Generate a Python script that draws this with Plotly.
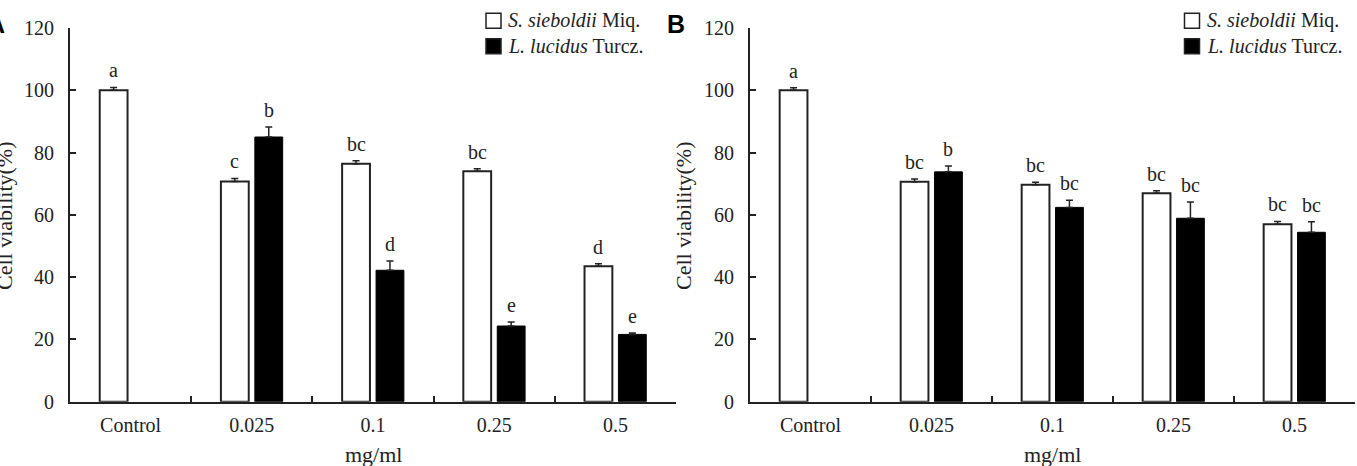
import plotly.graph_objects as go

# ---------------- data ----------------
categories = ["Control", "0.025", "0.1", "0.25", "0.5"]
series_names = ["S. sieboldii Miq.", "L. lucidus Turcz."]

# Panel A
a_sieboldii = [100.0, 70.7, 76.4, 74.0, 43.5]
a_sieboldii_err = [0.9, 1.0, 1.0, 0.8, 0.8]
a_lucidus = [None, 85.0, 42.2, 24.3, 21.6]
a_lucidus_err = [None, 3.2, 3.0, 1.3, 0.5]
a_sieboldii_letters = ["a", "c", "bc", "bc", "d"]
a_lucidus_letters = ["", "b", "d", "e", "e"]

# Panel B
b_sieboldii = [100.0, 70.6, 69.7, 66.9, 57.0]
b_sieboldii_err = [0.8, 0.9, 0.8, 0.8, 0.9]
b_lucidus = [None, 73.8, 62.4, 58.9, 54.4]
b_lucidus_err = [None, 1.9, 2.3, 5.2, 3.4]
b_sieboldii_letters = ["a", "bc", "bc", "bc", "bc"]
b_lucidus_letters = ["", "b", "bc", "bc", "bc"]

y_ticks = [0, 20, 40, 60, 80, 100, 120]
y_title = "Cell viability(%)"
x_title = "mg/ml"
panel_labels = ["A", "B"]

# ---------------- layout constants ----------------
W, H = 1357, 466
FONT = "Liberation Serif"
TXT = "#222222"
BARGAP = 0.44
BARGROUPGAP = 0.18
PLOT_TOP, PLOT_BOTTOM = 28, 401.7
XA = (70, 676)
XB = (750, 1355)


def fx(x):
    return x / W


def fy(y):
    return (H - y) / H


fig = go.Figure()

panels = [
    ("x", "y", XA, a_sieboldii, a_sieboldii_err, a_lucidus, a_lucidus_err,
     a_sieboldii_letters, a_lucidus_letters),
    ("x2", "y2", XB, b_sieboldii, b_sieboldii_err, b_lucidus, b_lucidus_err,
     b_sieboldii_letters, b_lucidus_letters),
]

annotations = []
shapes = []

for (xr, yr, dom, sv, se, lv, le, sl, ll) in panels:
    fig.add_trace(go.Bar(
        x=categories, y=sv, name=series_names[0], xaxis=xr, yaxis=yr,
        marker=dict(color="white", line=dict(color=TXT, width=2)),
        error_y=dict(type="data", symmetric=False, array=se,
                     arrayminus=[0] * len(se), color=TXT, thickness=1.5, width=3.5),
        showlegend=False,
    ))
    fig.add_trace(go.Bar(
        x=categories, y=lv, name=series_names[1], xaxis=xr, yaxis=yr,
        marker=dict(color="black", line=dict(color="black", width=1)),
        error_y=dict(type="data", symmetric=False, array=[e if e is not None else 0 for e in le],
                     arrayminus=[0] * len(le), color=TXT, thickness=1.5, width=3.5),
        showlegend=False,
    ))
    catpx = (dom[1] - dom[0]) / len(categories)
    slot = (1 - BARGAP) / 2 * catpx
    for vals, errs, letters, sign in ((sv, se, sl, -1), (lv, le, ll, 1)):
        for i, (v, e, t) in enumerate(zip(vals, errs, letters)):
            if v is None or not t:
                continue
            annotations.append(dict(
                x=i, y=v + (e or 0), xref=xr, yref=yr, text=t, showarrow=False,
                xanchor="center", yanchor="bottom", xshift=sign * slot / 2, yshift=4,
                font=dict(family=FONT, size=20, color=TXT),
            ))

axis_common = dict(showline=True, linecolor=TXT, linewidth=2, ticks="inside",
                   ticklen=6, tickwidth=1.5, tickcolor=TXT, showgrid=False,
                   zeroline=False, automargin=False,
                   tickfont=dict(family=FONT, size=20, color=TXT))

fig.update_layout(
    width=W, height=H, autosize=False,
    margin=dict(l=0, r=0, t=0, b=0, pad=0),
    paper_bgcolor="white", plot_bgcolor="white",
    barmode="group", bargap=BARGAP, bargroupgap=BARGROUPGAP,
    xaxis=dict(domain=[fx(XA[0]), fx(XA[1])], anchor="y", type="category",
               tickson="boundaries", ticklabelstandoff=4, **axis_common),
    xaxis2=dict(domain=[fx(XB[0]), fx(XB[1])], anchor="y2", type="category",
                tickson="boundaries", ticklabelstandoff=4, **axis_common),
    yaxis=dict(domain=[fy(PLOT_BOTTOM), fy(PLOT_TOP)], anchor="x", range=[0, 120],
               tickvals=y_ticks, ticklabelstandoff=10, **axis_common),
    yaxis2=dict(domain=[fy(PLOT_BOTTOM), fy(PLOT_TOP)], anchor="x2", range=[0, 120],
                tickvals=y_ticks, ticklabelstandoff=10, **axis_common),
)

# axis titles and panel labels
for dom, lab, title_x in ((XA, panel_labels[0], 4), (XB, panel_labels[1], 683)):
    annotations.append(dict(
        x=fx(title_x), y=fy(216), xref="paper", yref="paper", text=y_title,
        textangle=-90, showarrow=False, xanchor="center", yanchor="middle",
        font=dict(family=FONT, size=22, color=TXT)))
    annotations.append(dict(
        x=fx((dom[0] + dom[1]) / 2), y=fy(454), xref="paper", yref="paper",
        text=x_title, showarrow=False, xanchor="center", yanchor="middle",
        font=dict(family=FONT, size=22, color=TXT)))
annotations.append(dict(x=fx(-4), y=fy(24), xref="paper", yref="paper", text="<b>A</b>",
                        showarrow=False, xanchor="center", yanchor="middle",
                        font=dict(family="Liberation Sans", size=25, color="black")))
annotations.append(dict(x=fx(675.5), y=fy(24), xref="paper", yref="paper", text="<b>B</b>",
                        showarrow=False, xanchor="center", yanchor="middle",
                        font=dict(family="Liberation Sans", size=25, color="black")))

# manual legends (box + label) for each panel
legend_texts = ["<i>S. sieboldii</i> Miq.", "<i>L. lucidus</i> Turcz."]
legend_fill = ["white", "black"]
for box_x in (486, 1184.5):
    for i, (txt, fill) in enumerate(zip(legend_texts, legend_fill)):
        cy = 20.7 + i * 25.5
        shapes.append(dict(type="rect", xref="paper", yref="paper",
                           x0=fx(box_x), x1=fx(box_x + 15), y0=fy(cy + 7.5), y1=fy(cy - 7.5),
                           fillcolor=fill, line=dict(color=TXT, width=1.5)))
        annotations.append(dict(x=fx(box_x + 20), y=fy(cy), xref="paper", yref="paper",
                                text=txt, showarrow=False, xanchor="left", yanchor="middle",
                                font=dict(family=FONT, size=20, color=TXT)))

fig.update_layout(annotations=annotations, shapes=shapes)
fig.write_html("out.html")
